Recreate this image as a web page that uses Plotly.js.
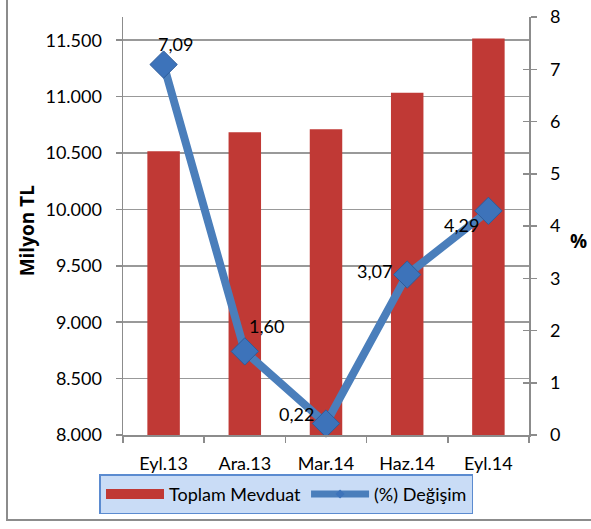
<!DOCTYPE html>
<html>
<head>
<meta charset="utf-8">
<script src="https://cdn.plot.ly/plotly-3.0.1.min.js"></script>
<style>
  html, body { margin: 0; padding: 0; background: #ffffff; overflow: hidden; }
  #wrap { position: relative; width: 591px; height: 529px; }
  #frame { position: absolute; left: 6px; top: -10px; width: 700px; height: 531px; border: 2px solid #8c8c8c; box-sizing: border-box; pointer-events: none; }
  #chart { position: absolute; left: 0; top: 0; width: 591px; height: 529px; }
</style>
</head>
<body>
<div id="wrap">
  <div id="chart"></div>
  <div id="frame"></div>
</div>
<script>
// Data
const categories = ["Eyl.13", "Ara.13", "Mar.14", "Haz.14", "Eyl.14"];
const toplamMevduat = [10515, 10685, 10710, 11035, 11515];   // Milyon TL
const degisim = [7.09, 1.60, 0.22, 3.07, 4.29];               // %
const degisimLabels = ["7,09", "1,60", "0,22", "3,07", "4,29"];
const leftTicks = [8000, 8500, 9000, 9500, 10000, 10500, 11000, 11500];
const rightTicks = [0, 1, 2, 3, 4, 5, 6, 7, 8];
// label offsets from each point (px)
const labelShiftX = [12, 22, -30, -33, -27];
const labelShiftY = [21, 25, 10, 4, -14];

const FONT = "Lato, 'Open Sans', sans-serif";
const BOLDFONT = "'Open Sans', Lato, sans-serif";
const BAR_COLOR = "#c03935";
const LINE_COLOR = "#4a7ebb";

const traces = [
  {
    type: "bar",
    name: "Toplam Mevduat",
    x: categories,
    y: toplamMevduat,
    width: 0.4,
    marker: { color: BAR_COLOR, line: { width: 0 } },
    yaxis: "y",
    showlegend: false,
    hoverinfo: "skip"
  },
  {
    type: "scatter",
    mode: "lines+markers",
    name: "(%) Değişim",
    x: categories,
    y: degisim,
    yaxis: "y2",
    line: { color: LINE_COLOR, width: 8 },
    marker: { symbol: "diamond", size: 21, color: "#3d73ba", line: { color: "#2e5c9a", width: 1 } },
    cliponaxis: false,
    showlegend: false,
    hoverinfo: "skip"
  },
  {
    // legend entry for the bars (wide swatch)
    type: "scatter",
    mode: "lines",
    name: "Toplam Mevduat",
    x: [null],
    y: [null],
    yaxis: "y2",
    line: { color: BAR_COLOR, width: 11 },
    hoverinfo: "skip"
  },
  {
    // legend entry for the line
    type: "scatter",
    mode: "lines+markers",
    name: "(%) Değişim",
    x: [null],
    y: [null],
    yaxis: "y2",
    line: { color: LINE_COLOR, width: 7 },
    marker: { symbol: "diamond", size: 7, color: "#3d73ba" },
    hoverinfo: "skip"
  },
  {
    // helper for inner half of crossing ticks on the right axis
    type: "scatter",
    x: categories,
    y: [null, null, null, null, null],
    yaxis: "y3",
    showlegend: false,
    hoverinfo: "skip"
  }
];

const annotations = categories.map((c, i) => ({
  x: c, y: degisim[i], xref: "x", yref: "y2",
  text: degisimLabels[i], showarrow: false,
  xanchor: "center", yanchor: "middle",
  xshift: labelShiftX[i], yshift: labelShiftY[i],
  font: { family: FONT, size: 18, color: "#000000" }
}));
annotations.push({
  x: -0.236, y: 0.49, xref: "paper", yref: "paper",
  xanchor: "center", yanchor: "middle",
  text: "<b>Milyon TL</b>", textangle: -90, showarrow: false,
  font: { family: BOLDFONT, size: 19, color: "#000000" }
});
annotations.push({
  x: 1.123, y: 0.464, xref: "paper", yref: "paper",
  xanchor: "center", yanchor: "middle",
  text: "<b>%</b>", showarrow: false,
  font: { family: BOLDFONT, size: 19, color: "#000000" }
});

const layout = {
  width: 591,
  height: 529,
  margin: { l: 123, r: 62, t: 17, b: 94, autoexpand: false },
  paper_bgcolor: "#ffffff",
  plot_bgcolor: "#ffffff",
  separators: ",.",
  font: { family: FONT, size: 18, color: "#000000" },
  showlegend: true,
  annotations: annotations,
  xaxis: {
    type: "category",
    showgrid: false,
    showline: true,
    linecolor: "#8c8c8c",
    linewidth: 1.5,
    ticks: "outside",
    tickson: "boundaries",
    ticklen: 6,
    tickcolor: "#8c8c8c",
    tickwidth: 1.5,
    ticklabelstandoff: 12,
    tickfont: { family: FONT, size: 18, color: "#000000" }
  },
  yaxis: {
    range: [8000, 11706],
    tickvals: leftTicks,
    tickformat: ",d",
    showgrid: true,
    gridcolor: "#999999",
    gridwidth: 1.5,
    zeroline: false,
    showline: true,
    linecolor: "#8c8c8c",
    linewidth: 1.5,
    ticks: "outside",
    ticklen: 6,
    tickcolor: "#8c8c8c",
    tickwidth: 1.5,
    ticklabelstandoff: 10,
    tickfont: { family: FONT, size: 18, color: "#000000" }
  },
  yaxis2: {
    overlaying: "y",
    side: "right",
    range: [0, 8],
    tickvals: rightTicks,
    showgrid: false,
    zeroline: false,
    showline: true,
    linecolor: "#8c8c8c",
    linewidth: 1.5,
    ticks: "outside",
    ticklen: 6,
    tickcolor: "#8c8c8c",
    tickwidth: 1.5,
    ticklabelstandoff: 10,
    tickfont: { family: FONT, size: 18, color: "#000000" }
  },
  yaxis3: {
    overlaying: "y",
    side: "right",
    range: [0, 8],
    tickvals: rightTicks,
    showticklabels: false,
    showgrid: false,
    zeroline: false,
    showline: false,
    ticks: "inside",
    ticklen: 6,
    tickcolor: "#8c8c8c",
    tickwidth: 1.5
  },
  legend: {
    orientation: "h",
    x: 0.4027,
    xanchor: "center",
    y: -0.094,
    yanchor: "top",
    bgcolor: "#c9dcf6",
    bordercolor: "#5b8bd0",
    borderwidth: 1.5,
    itemwidth: 58,
    font: { family: FONT, size: 18, color: "#000000" },
    traceorder: "normal"
  }
};

Plotly.newPlot("chart", traces, layout, { displayModeBar: false, staticPlot: true });
</script>
</body>
</html>
